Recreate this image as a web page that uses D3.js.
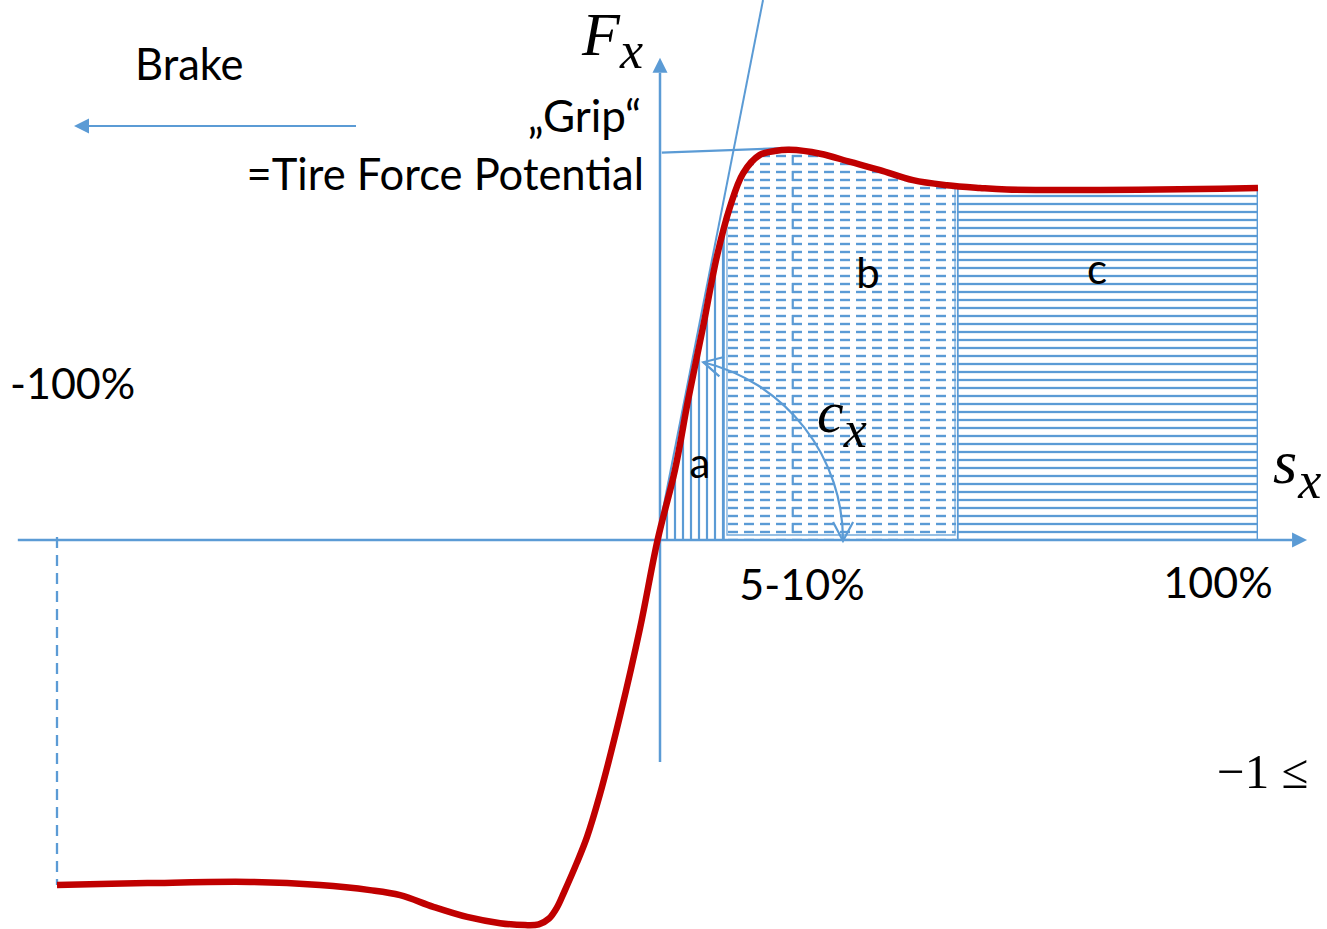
<!DOCTYPE html>
<html>
<head>
<meta charset="utf-8">
<script src="https://cdn.jsdelivr.net/npm/d3@7"></script>
<style>
  body { margin: 0; background: #fff; }
  svg { display: block; }
</style>
</head>
<body>
<svg id="chart" width="1327" height="929"></svg>
<script>
// Longitudinal tire force Fx (normalised to the grip peak) over slip sx in %
const curveSlip = [-100, -85, -68, -56.4, -48.1, -43.1, -37.6, -32.0, -26.5, -22.4, -20.1, -18.4, -17.1, -15.9, -13.8, -12.1, -10.0, -6.6, -3.3, -0.4,
                   2.5, 4.7, 7.2, 9.5, 11.7, 13.9, 16.7, 19.2, 21.7, 26.8, 31.8, 36.8, 42.3, 48.0, 53.5, 58.0, 73.6, 90.3, 100];
const curveForce = [-0.887, -0.882, -0.879, -0.887, -0.900, -0.913, -0.943, -0.969, -0.985, -0.990, -0.988, -0.973, -0.945, -0.905, -0.830, -0.763, -0.656, -0.450, -0.226, 0,
                    0.180, 0.360, 0.548, 0.728, 0.856, 0.943, 0.990, 1.000, 1.003, 0.993, 0.972, 0.951, 0.925, 0.912, 0.905, 0.901, 0.900, 0.902, 0.905];

// Slip regions: a = linear, b = transition / peak, c = sliding
const regionNames = ["a", "b", "c"];
const regionStart = [0, 11.2, 49.8];
const regionEnd = [10.65, 49.5, 100];

// Peak (grip) position and the initial slope cx of the curve
const peakSlip = 22.2;
const peakForce = 1.0;
const stiffnessSlope = 0.0783;   // dFx/dsx at the origin, per %
const stiffnessZero = -0.5;      // slip where the tangent crosses Fx = 0

const tickLabels = ["-100%", "5-10%", "100%"];

const svg = d3.select("#chart");
const blue = "#5b9bd5", red = "#c00000";
const textFont = "Lato, 'Open Sans', sans-serif";
const mathFont = "'Liberation Serif', 'DejaVu Serif', serif";

const x = d3.scaleLinear().domain([-100, 0, 100]).range([57, 660, 1258]);
const y = d3.scaleLinear().domain([-1, 0, 1]).range([929, 540, 151]);

const curve = curveSlip.map((s, i) => ({ s, f: curveForce[i] }));
const tangent = s => stiffnessSlope * (s - stiffnessZero);
const smooth = d3.curveCatmullRom.alpha(0.5);

svg.append("rect").attr("width", 1327).attr("height", 929).attr("fill", "#fff");

const defs = svg.append("defs");

// filled arrow head for the axes
defs.append("marker")
  .attr("id", "tri").attr("markerUnits", "userSpaceOnUse")
  .attr("viewBox", "0 -8 16 16").attr("refX", 0).attr("refY", 0)
  .attr("markerWidth", 16).attr("markerHeight", 16).attr("orient", "auto")
  .append("path").attr("d", "M0,-7.5L15,0L0,7.5Z").attr("fill", blue);

// open arrow head for the cx arc
defs.append("marker")
  .attr("id", "open").attr("markerUnits", "userSpaceOnUse")
  .attr("viewBox", "-24 -14 28 28").attr("refX", 0).attr("refY", 0)
  .attr("markerWidth", 28).attr("markerHeight", 28).attr("orient", "auto-start-reverse")
  .append("path").attr("d", "M-19,-10L0,0L-19,10")
  .attr("fill", "none").attr("stroke", blue).attr("stroke-width", 2.2);

// hatch patterns
const pa = defs.append("pattern").attr("id", "hatchA").attr("patternUnits", "userSpaceOnUse")
  .attr("x", -1).attr("y", 0).attr("width", 8).attr("height", 8);
pa.append("line").attr("x1", 4).attr("x2", 4).attr("y1", -1).attr("y2", 9)
  .attr("stroke", blue).attr("stroke-width", 2.2);

const pb = defs.append("pattern").attr("id", "hatchB").attr("patternUnits", "userSpaceOnUse")
  .attr("x", 8).attr("y", 0).attr("width", 16).attr("height", 8);
pb.append("line").attr("x1", 0).attr("x2", 10).attr("y1", 4).attr("y2", 4)
  .attr("stroke", blue).attr("stroke-width", 2.4);

const pc = defs.append("pattern").attr("id", "hatchC").attr("patternUnits", "userSpaceOnUse")
  .attr("x", 0).attr("y", 0).attr("width", 8).attr("height", 8);
pc.append("line").attr("x1", -1).attr("x2", 9).attr("y1", 4).attr("y2", 4)
  .attr("stroke", blue).attr("stroke-width", 2.3);

// clip: area between the positive branch of the curve and the slip axis
const positive = curve.filter(d => d.s >= -0.5);
const area = d3.area().x(d => x(d.s)).y0(y(0)).y1(d => y(d.f)).curve(smooth);
defs.append("clipPath").attr("id", "underCurve")
  .append("path").attr("d", area(positive));

const regions = svg.append("g").attr("clip-path", "url(#underCurve)");
const hatchIds = ["hatchA", "hatchB", "hatchC"];
regionNames.forEach((name, i) => {
  regions.append("rect")
    .attr("x", x(regionStart[i])).attr("y", 0)
    .attr("width", x(regionEnd[i]) - x(regionStart[i])).attr("height", y(0))
    .attr("fill", `url(#${hatchIds[i]})`);
});
// outline of region b
regions.append("path")
  .attr("d", `M${x(regionStart[1])},${y(1.2)}V${y(0) - 5}H${x(regionEnd[1]) - 1}V${y(1.2)}`)
  .attr("fill", "none").attr("stroke", blue).attr("stroke-width", 1.3).attr("opacity", 0.85);
// borders of regions a and c
regions.append("line").attr("x1", x(regionStart[2])).attr("x2", x(regionStart[2]))
  .attr("y1", y(0)).attr("y2", y(1.2)).attr("stroke", blue).attr("stroke-width", 1.8);
regions.append("line").attr("x1", x(regionEnd[2])).attr("x2", x(regionEnd[2]))
  .attr("y1", y(0)).attr("y2", y(1.2)).attr("stroke", blue).attr("stroke-width", 2.8);
regions.append("line").attr("x1", x(regionEnd[0])).attr("x2", x(regionEnd[0]))
  .attr("y1", y(0)).attr("y2", y(1.2)).attr("stroke", blue).attr("stroke-width", 2.2);

// dashed marker at the grip peak
svg.append("line")
  .attr("x1", x(peakSlip)).attr("x2", x(peakSlip))
  .attr("y1", y(peakForce) + 4).attr("y2", y(0))
  .attr("stroke", blue).attr("stroke-width", 2.2).attr("stroke-dasharray", "10,6");

// dashed marker at -100 % slip
svg.append("line")
  .attr("x1", x(-100)).attr("x2", x(-100))
  .attr("y1", y(0) - 3).attr("y2", y(curveForce[0]))
  .attr("stroke", blue).attr("stroke-width", 2.3).attr("stroke-dasharray", "11,7");

// axes
svg.append("line")
  .attr("x1", x(-106.5)).attr("x2", x(105.7))
  .attr("y1", y(0)).attr("y2", y(0))
  .attr("stroke", blue).attr("stroke-width", 2.7).attr("marker-end", "url(#tri)");
svg.append("line")
  .attr("x1", x(0)).attr("x2", x(0))
  .attr("y1", y(-0.571)).attr("y2", y(1.201))
  .attr("stroke", blue).attr("stroke-width", 2.5).attr("marker-end", "url(#tri)");

// "Brake" direction arrow
svg.append("line")
  .attr("x1", 356).attr("x2", 89).attr("y1", 126).attr("y2", 126)
  .attr("stroke", blue).attr("stroke-width", 2.2).attr("marker-end", "url(#tri)");

// grip level line
svg.append("line")
  .attr("x1", x(0.3)).attr("x2", x(peakSlip - 0.5))
  .attr("y1", y(peakForce - 0.004)).attr("y2", y(peakForce + 0.008))
  .attr("stroke", blue).attr("stroke-width", 2.2);

// initial tangent (cornering stiffness cx)
const tanTop = (y.invert(0) / stiffnessSlope) + stiffnessZero;
svg.append("line")
  .attr("x1", x(-0.9)).attr("y1", y(tangent(-0.9)))
  .attr("x2", x(tanTop)).attr("y2", y(tangent(tanTop)))
  .attr("stroke", blue).attr("stroke-width", 2);

// cx arc around the origin
const cx0 = x(0), cy0 = y(0);
const arcEnd = [x(30.6), y(0) + 1];
const r = arcEnd[0] - cx0;
const startAng = Math.atan2(y(0) - y(0.455), x(7.2) - cx0);
const arcStart = [cx0 + r * Math.cos(startAng), cy0 - r * Math.sin(startAng)];
svg.append("path")
  .attr("d", `M${arcStart[0]},${arcStart[1]}A${r},${r} 0 0 1 ${arcEnd[0]},${arcEnd[1]}`)
  .attr("fill", "none").attr("stroke", blue).attr("stroke-width", 2.2)
  .attr("marker-start", "url(#open)").attr("marker-end", "url(#open)");

// force-slip curve
const line = d3.line().x(d => x(d.s)).y(d => y(d.f)).curve(smooth);
svg.append("path").attr("d", line(curve))
  .attr("fill", "none").attr("stroke", red).attr("stroke-width", 6.5)
  .attr("stroke-linejoin", "round");

// plain labels
const label = (txt, px, py, anchor, size) => svg.append("text")
  .attr("x", px).attr("y", py).attr("text-anchor", anchor || "start")
  .attr("font-family", textFont).attr("font-size", size || 43).attr("fill", "#000").text(txt);

label("Brake", 135, 80, "start", 43.5);
label("\u201EGrip\u201C", 641, 132, "end", 44);
label("=Tire Force Potential", 644, 190, "end", 43.5);
label(tickLabels[0], 10, 399);
label(tickLabels[1], 802, 600, "middle");
label(tickLabels[2], 1218, 598, "middle");

const regionLabelPos = [[700, 478], [868, 288], [1097, 284]];
regionNames.forEach((n, i) => label(n, regionLabelPos[i][0], regionLabelPos[i][1], "middle", 42));

// math labels: symbol with an italic subscript
const math = (sym, sub, px, py, size, subSize, dx, dy) => {
  const t = svg.append("text")
    .attr("x", px).attr("y", py).attr("font-family", mathFont)
    .attr("font-style", "italic").attr("font-size", size).attr("fill", "#000");
  t.append("tspan").text(sym);
  t.append("tspan").attr("dx", dx).attr("dy", dy).attr("font-size", subSize).text(sub);
};

math("F", "x", 582, 55, 62, 52, 0, 13);
math("s", "x", 1273, 483, 62, 52, 1, 15);
math("c", "x", 817, 432, 60, 52, 0, 15);

svg.append("text")
  .attr("x", 1217).attr("y", 788).attr("font-family", mathFont)
  .attr("font-size", 49).attr("fill", "#000").text("\u22121 \u2264");
</script>
</body>
</html>
